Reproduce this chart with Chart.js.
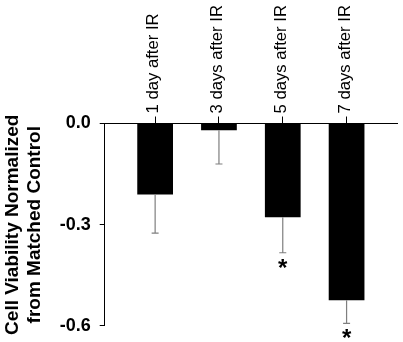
<!DOCTYPE html>
<html>
<head>
<meta charset="utf-8">
<script src="https://cdn.jsdelivr.net/npm/chart.js@4/dist/chart.umd.min.js"></script>
<style>
  html, body { margin: 0; padding: 0; background: #fff; }
  #wrap { width: 403px; height: 342px; position: relative; }
</style>
</head>
<body>
<div id="wrap"><canvas id="c"></canvas></div>
<script>
const categories = ['1 day after IR', '3 days after IR', '5 days after IR', '7 days after IR'];
const values = [-0.21, -0.02, -0.278, -0.524];
const errors = [0.115, 0.10, 0.105, 0.068];
const marks = ['', '', '*', '*'];
const yTicks = [0.0, -0.3, -0.6];
const yTitle = ['Cell Viability Normalized', 'from Matched Control'];

const FONT = "'Liberation Sans', Arial, sans-serif";

const errorPlugin = {
  id: 'errorBars',
  afterDatasetsDraw(chart) {
    const ctx = chart.ctx;
    const meta = chart.getDatasetMeta(0);
    const y = chart.scales.y;
    ctx.save();
    meta.data.forEach((el, i) => {
      const yEnd = y.getPixelForValue(values[i] - errors[i]);
      ctx.strokeStyle = '#7f7f7f';
      ctx.lineWidth = 1.2;
      ctx.beginPath();
      ctx.moveTo(el.x, el.y);
      ctx.lineTo(el.x, yEnd);
      ctx.moveTo(el.x - 3.5, yEnd);
      ctx.lineTo(el.x + 3.5, yEnd);
      ctx.stroke();
      if (marks[i]) {
        const fs = 24;
        ctx.fillStyle = '#000';
        ctx.font = 'bold ' + fs + 'px ' + FONT;
        ctx.textAlign = 'center';
        ctx.textBaseline = 'alphabetic';
        ctx.fillText(marks[i], el.x, yEnd + 9.8 + 0.55 * fs);
      }
    });
    ctx.restore();
  }
};

new Chart(document.getElementById('c'), {
  type: 'bar',
  data: {
    datasets: [{
      data: values.map((v, i) => ({ x: i + 1, y: v })),
      backgroundColor: '#000',
      borderWidth: 0,
      categoryPercentage: 1,
      barPercentage: 0.56
    }]
  },
  options: {
    responsive: true,
    maintainAspectRatio: false,
    animation: false,
    devicePixelRatio: 1,
    layout: { padding: { top: 2, right: 6, bottom: 5, left: 0 } },
    plugins: { legend: { display: false }, tooltip: { enabled: false } },
    scales: {
      x: {
        type: 'linear',
        position: 'top',
        min: 0.21,
        max: 4.79,
        offset: false,
        afterBuildTicks(scale) {
          scale.ticks = categories.map((c, i) => ({ value: i + 1 }));
        },
        ticks: {
          minRotation: 90,
          maxRotation: 90,
          autoSkip: false,
          padding: 3,
          labelOffset: 18.5,
          color: '#000',
          font: { family: FONT, size: 16.7 },
          callback: (v) => categories[Math.round(v) - 1]
        },
        grid: { display: true, offset: false, drawOnChartArea: false, drawTicks: true, tickLength: 7, color: '#000', lineWidth: 1 },
        border: { display: true, color: '#000', width: 1 }
      },
      y: {
        min: -0.6,
        max: 0,
        afterBuildTicks(scale) {
          scale.ticks = yTicks.map(v => ({ value: v }));
        },
        ticks: {
          color: '#000',
          padding: 9,
          font: { family: FONT, size: 18, weight: 'bold', lineHeight: 0.78 },
          callback: (v) => Number(v).toFixed(1)
        },
        grid: { display: true, drawOnChartArea: false, drawTicks: true, tickLength: 5, color: '#000', lineWidth: 1 },
        border: { display: true, color: '#000', width: 1 },
        title: {
          display: true,
          text: yTitle,
          color: '#000',
          padding: { top: 2, bottom: 5 },
          font: { family: FONT, size: 19, weight: 'bold', lineHeight: 1.15 }
        }
      }
    }
  },
  plugins: [errorPlugin]
});
</script>
</body>
</html>
